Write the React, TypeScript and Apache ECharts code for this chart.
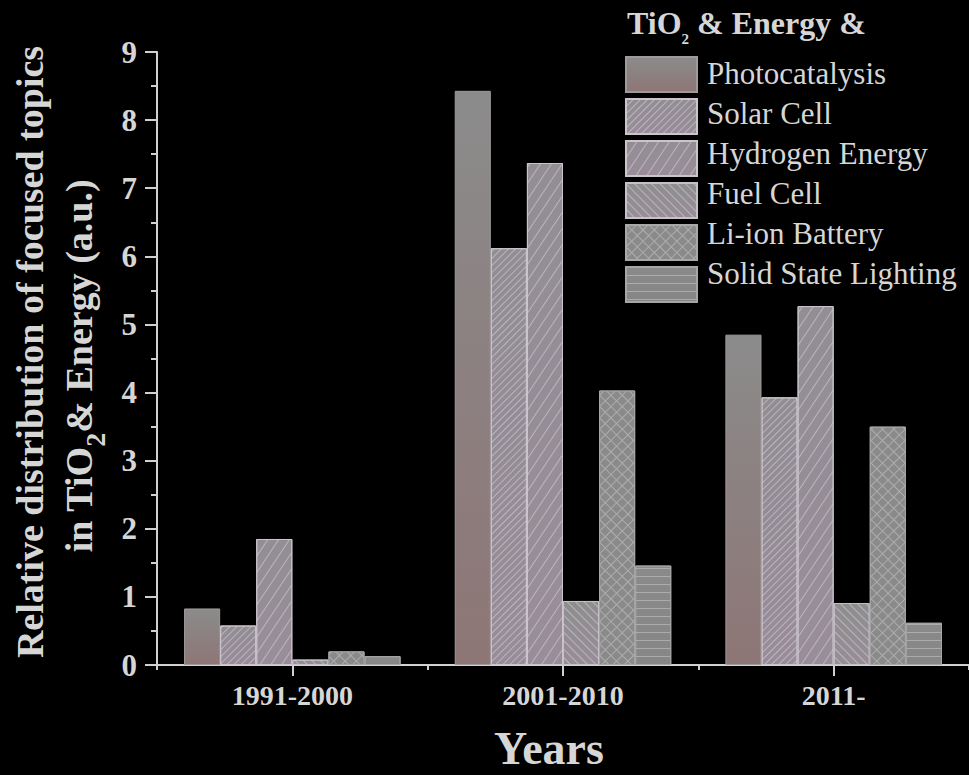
import React, { useEffect, useRef } from "react";
import * as echarts from "echarts";

// Periods on the category axis
const periods = ["1991-2000", "2001-2010", "2011-"];

// Topic names, in legend order
const topics = [
  "Photocatalysis",
  "Solar Cell",
  "Hydrogen Energy",
  "Fuel Cell",
  "Li-ion Battery",
  "Solid State Lighting",
];

// Relative distribution per period (a.u.)
const photocatalysis = [0.83, 8.43, 4.85];
const solarCell = [0.58, 6.12, 3.93];
const hydrogenEnergy = [1.85, 7.37, 5.27];
const fuelCell = [0.08, 0.94, 0.91];
const liIonBattery = [0.2, 4.03, 3.5];
const solidStateLighting = [0.13, 1.46, 0.62];

const seriesValues = [
  photocatalysis,
  solarCell,
  hydrogenEnergy,
  fuelCell,
  liIonBattery,
  solidStateLighting,
];

const SERIF = "Liberation Serif";
const AXIS_COLOR = "#d0d0d0";
const TEXT_COLOR = "#d6d6d6";
const HATCH = "rgba(228, 222, 232, 0.5)";

// Legend geometry: swatch box and row pitch
const LEGEND_LEFT = 625;
const LEGEND_TOP = 56;
const SWATCH_W = 71;
const SWATCH_H = 35;
const ROW_GAP = 5;

const grad = (top: string, bottom: string) =>
  new echarts.graphic.LinearGradient(0, 0, 0, 1, [
    { offset: 0, color: top },
    { offset: 1, color: bottom },
  ]);

// Fill, border and hatch pattern of each topic
const itemStyles: any[] = [
  {
    color: grad("#8b8b8b", "#8e7676"),
    borderColor: "#a09a9a",
    borderWidth: 1,
  },
  {
    color: grad("#918d93", "#988c98"),
    borderColor: "#cbc4cd",
    borderWidth: 1,
    decal: {
      symbol: "rect",
      symbolSize: 1,
      dashArrayX: [1, 0],
      dashArrayY: [1, 4],
      rotation: -Math.PI / 4,
      color: HATCH,
    },
  },
  {
    color: grad("#928e94", "#998d99"),
    borderColor: "#cbc4cd",
    borderWidth: 1,
    decal: {
      symbol: "rect",
      symbolSize: 1,
      dashArrayX: [1, 0],
      dashArrayY: [1, 8],
      rotation: -Math.PI / 3.2,
      color: HATCH,
    },
  },
  {
    color: grad("#8e8e8e", "#978d97"),
    borderColor: "#c6c0c8",
    borderWidth: 1,
    decal: {
      symbol: "rect",
      symbolSize: 1,
      dashArrayX: [1, 0],
      dashArrayY: [1, 5],
      rotation: Math.PI / 4,
      color: HATCH,
    },
  },
  {
    color: "#adadad",
    borderColor: "#a8a8a8",
    borderWidth: 1,
    decal: {
      symbol: "rect",
      symbolSize: 1,
      dashArrayX: [7, 1],
      dashArrayY: [7, 1],
      rotation: Math.PI / 4,
      color: "#8a8a8a",
    },
  },
  {
    color: grad("#8a8a8a", "#868686"),
    borderColor: "#a6a6a6",
    borderWidth: 1,
    decal: {
      symbol: "rect",
      symbolSize: 1,
      dashArrayX: [1, 0],
      dashArrayY: [1, 7],
      rotation: 0,
      color: "rgba(200, 200, 200, 0.55)",
    },
  },
];

const axisLineStyle = { color: AXIS_COLOR, width: 2 };

export default function App() {
  const ref = useRef<HTMLDivElement>(null);

  useEffect(() => {
    document.body.style.margin = "0";
    document.body.style.background = "#000";
    const chart = echarts.init(ref.current!, null, { renderer: "svg" });

    // Legend labels, set beside each swatch in the serif face
    const legendLabels = topics.map((name, i) => ({
      type: "text",
      x: LEGEND_LEFT + SWATCH_W + 11,
      y: LEGEND_TOP + SWATCH_H / 2 + i * (SWATCH_H + ROW_GAP),
      style: {
        text: name,
        align: "left",
        verticalAlign: "middle",
        fontFamily: SERIF,
        fontWeight: 500,
        fontSize: 31,
        fill: TEXT_COLOR,
      },
    }));

    const option: any = {
      animation: false,
      backgroundColor: "#000000",
      textStyle: { fontFamily: SERIF },
      grid: { left: 157, top: 52, bottom: 110, right: -6, containLabel: false },
      legend: {
        orient: "vertical",
        left: LEGEND_LEFT,
        top: LEGEND_TOP,
        padding: 0,
        itemWidth: SWATCH_W,
        itemHeight: SWATCH_H,
        itemGap: ROW_GAP,
        icon: "rect",
        data: topics,
        formatter: () => "",
        textStyle: { fontSize: 1 },
      },
      xAxis: [
        {
          type: "category",
          data: periods,
          boundaryGap: true,
          axisLine: { show: true, lineStyle: axisLineStyle },
          axisTick: { show: true, length: 5, lineStyle: axisLineStyle },
          axisLabel: {
            color: TEXT_COLOR,
            fontFamily: SERIF,
            fontWeight: "bold",
            fontSize: 28,
            margin: 16,
          },
          splitLine: { show: false },
        },
        {
          type: "category",
          data: periods,
          position: "bottom",
          boundaryGap: true,
          axisLine: { show: false },
          axisTick: {
            show: true,
            alignWithLabel: true,
            length: 11,
            lineStyle: axisLineStyle,
          },
          axisLabel: { show: false },
          splitLine: { show: false },
        },
      ],
      yAxis: {
        type: "value",
        min: 0,
        max: 9,
        interval: 1,
        axisLine: { show: true, lineStyle: axisLineStyle },
        axisTick: { show: true, length: 12, lineStyle: axisLineStyle },
        minorTick: {
          show: true,
          splitNumber: 2,
          length: 6,
          lineStyle: axisLineStyle,
        },
        splitLine: { show: false },
        axisLabel: {
          color: TEXT_COLOR,
          fontFamily: SERIF,
          fontWeight: "bold",
          fontSize: 31,
          margin: 20,
        },
      },
      series: topics.map((name, i) => ({
        name,
        type: "bar",
        xAxisIndex: 0,
        data: seriesValues[i],
        barGap: "0%",
        barCategoryGap: "20%",
        itemStyle: itemStyles[i],
      })),
      graphic: [
        ...legendLabels,
        {
          type: "text",
          x: 627,
          y: 23,
          style: {
            text: "{n|TiO}{s|2}{n| & Energy &}",
            align: "left",
            verticalAlign: "middle",
            fill: TEXT_COLOR,
            rich: {
              n: {
                fontFamily: SERIF,
                fontWeight: "bold",
                fontSize: 32,
                lineHeight: 46,
                fill: TEXT_COLOR,
              },
              s: {
                fontFamily: SERIF,
                fontWeight: "bold",
                fontSize: 15,
                lineHeight: 15,
                verticalAlign: "bottom",
                fill: TEXT_COLOR,
              },
            },
          },
        },
        {
          type: "text",
          x: 30,
          y: 352,
          rotation: Math.PI / 2,
          style: {
            text: "Relative distribution of focused topics",
            align: "center",
            verticalAlign: "middle",
            fontFamily: SERIF,
            fontWeight: "bold",
            fontSize: 38,
            fill: TEXT_COLOR,
          },
        },
        {
          type: "text",
          x: 79,
          y: 366,
          rotation: Math.PI / 2,
          style: {
            text: "{n|in TiO}{s|2}{n|& Energy (a.u.)}",
            align: "center",
            verticalAlign: "middle",
            fill: TEXT_COLOR,
            rich: {
              n: {
                fontFamily: SERIF,
                fontWeight: "bold",
                fontSize: 38,
                lineHeight: 60,
                fill: TEXT_COLOR,
              },
              s: {
                fontFamily: SERIF,
                fontWeight: "bold",
                fontSize: 28,
                lineHeight: 28,
                verticalAlign: "bottom",
                fill: TEXT_COLOR,
              },
            },
          },
        },
        {
          type: "text",
          x: 549,
          y: 748,
          style: {
            text: "Years",
            align: "center",
            verticalAlign: "middle",
            fontFamily: SERIF,
            fontWeight: "bold",
            fontSize: 46,
            fill: TEXT_COLOR,
          },
        },
      ],
    };

    chart.setOption(option);
    return () => chart.dispose();
  }, []);

  return (
    <div
      ref={ref}
      style={{
        position: "fixed",
        left: 0,
        top: 0,
        width: 969,
        height: 775,
        background: "#000",
      }}
    />
  );
}
